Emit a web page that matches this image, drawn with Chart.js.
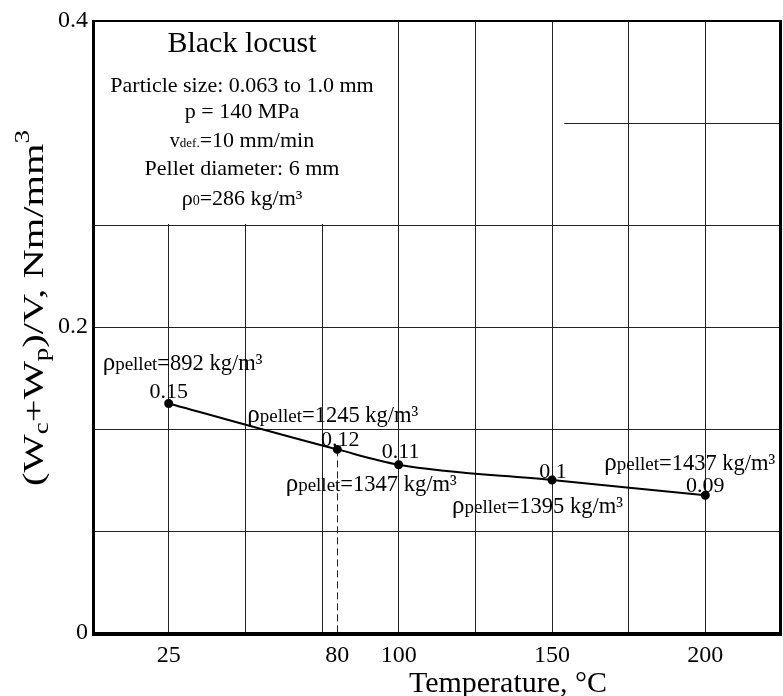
<!DOCTYPE html>
<html>
<head>
<meta charset="utf-8">
<script src="https://cdn.jsdelivr.net/npm/chart.js@4.4.1/dist/chart.umd.min.js"></script>
<style>
  html, body { margin: 0; padding: 0; background: #fff; }
  #chart { display: block; }
</style>
</head>
<body>
<canvas id="chart" width="783" height="696"></canvas>
<script>
// temperature (°C) vs specific compaction energy, black locust pellets
const temps = [25, 80, 100, 150, 200];
const energy = [0.15, 0.12, 0.11, 0.1, 0.09];
const energyLabels = ['0.15', '0.12', '0.11', '0.1', '0.09'];
const pelletDensity = [892, 1245, 1347, 1395, 1437];
const xTickLabels = [25, 80, 100, 150, 200];
const yTickLabels = [0, 0.2, 0.4];

const SERIF = '"Liberation Serif", "Times New Roman", serif';
const X_MAX = 225, Y_MAX = 0.4;
const X_STEP = 25, Y_STEP = Y_MAX / 6;

// label offsets from each point, in px (value: centre/baseline, density: left/baseline)
const valueOffsets = [[0, -6], [3, -3], [2, -7], [1, -2], [0, -3]];
const densityOffsets = [[-66, -34], [-90, -27], [-113, 26], [-100, 33], [-101, -25]];

function font(size) { return size + 'px ' + SERIF; }

// draws a run of text pieces with their own sizes / vertical shifts
function richText(ctx, parts, x, y, align) {
  let total = 0;
  parts.forEach(p => {
    ctx.font = font(p.size);
    p.w = ctx.measureText(p.t).width;
    total += p.w;
  });
  let cx = align === 'center' ? x - total / 2 : x;
  ctx.textAlign = 'left';
  ctx.textBaseline = 'alphabetic';
  parts.forEach(p => {
    ctx.font = font(p.size);
    ctx.fillText(p.t, cx, y + (p.dy || 0));
    cx += p.w;
  });
}

const near = (a, b) => Math.abs(a - b) < 1e-6;

const decorations = {
  id: 'decorations',
  beforeDatasetsDraw(chart) {
    const { ctx, chartArea: a, scales: { x, y } } = chart;
    ctx.save();
    // info box sits on top of the grid
    ctx.fillStyle = '#fff';
    ctx.fillRect(a.left, a.top, 392 - a.left, y.getPixelForValue(4 * Y_STEP) - a.top - 1);
    // upper grid line only shows right of the box
    ctx.strokeStyle = '#222';
    ctx.lineWidth = 1;
    const yy = Math.round(y.getPixelForValue(5 * Y_STEP)) + 0.5;
    ctx.beginPath();
    ctx.moveTo(x.getPixelForValue(154), yy);
    ctx.lineTo(a.right, yy);
    ctx.stroke();
    // dashed drop line at 80 °C
    const px = Math.round(x.getPixelForValue(temps[1])) + 0.5;
    ctx.setLineDash([7, 4]);
    ctx.beginPath();
    ctx.moveTo(px, y.getPixelForValue(energy[1]));
    ctx.lineTo(px, a.bottom);
    ctx.stroke();
    ctx.restore();
  },
  afterDraw(chart) {
    const { ctx, chartArea: a, scales: { x, y } } = chart;
    ctx.save();
    ctx.fillStyle = '#000';

    // frame
    ctx.strokeStyle = '#000';
    ctx.lineWidth = 2;
    ctx.strokeRect(a.left + 1, a.top, a.right - a.left - 2, a.bottom - a.top);
    ctx.lineWidth = 3;
    ctx.beginPath();
    ctx.moveTo(a.left + 1.5, a.top);
    ctx.lineTo(a.left + 1.5, a.bottom + 1.5);
    ctx.lineTo(a.right - 1.5, a.bottom + 1.5);
    ctx.lineTo(a.right - 1.5, a.top);
    ctx.stroke();

    // info box text
    const cx = 242;
    richText(ctx, [{ t: 'Black locust', size: 30 }], cx, 52, 'center');
    richText(ctx, [{ t: 'Particle size: 0.063 to 1.0 mm', size: 22 }], cx, 92, 'center');
    richText(ctx, [{ t: 'p = 140 MPa', size: 22 }], cx, 118, 'center');
    richText(ctx, [{ t: 'v', size: 20 }, { t: 'def.', size: 13 }, { t: '=10 mm/min', size: 22 }], cx, 147, 'center');
    richText(ctx, [{ t: 'Pellet diameter: 6 mm', size: 22 }], cx, 175, 'center');
    richText(ctx, [{ t: 'ρ', size: 22 }, { t: '0', size: 14 }, { t: '=286 kg/m³', size: 22 }], cx, 205, 'center');

    // point labels
    temps.forEach((t, i) => {
      const px = x.getPixelForValue(t);
      const py = y.getPixelForValue(energy[i]);
      const [vx, vy] = valueOffsets[i];
      richText(ctx, [{ t: energyLabels[i], size: 22 }], px + vx, py + vy, 'center');
      const [dx, dy] = densityOffsets[i];
      richText(ctx, [
        { t: 'ρ', size: 25 },
        { t: 'pellet', size: 19 },
        { t: '=' + pelletDensity[i] + ' kg/m³', size: 22.5 }
      ], px + dx, py + dy, 'left');
    });

    // axis titles
    richText(ctx, [{ t: 'Temperature, °C', size: 30 }], 508, 692, 'center');
    ctx.translate(43, 308);
    ctx.rotate(-Math.PI / 2);
    ctx.scale(1.35, 1);
    richText(ctx, [
      { t: '(W', size: 30 }, { t: 'c', size: 20, dy: 5 },
      { t: '+W', size: 30 }, { t: 'p', size: 20, dy: 5 },
      { t: ')/V, Nm/mm', size: 30 }, { t: '3', size: 20, dy: -14 }
    ], 0, 0, 'center');
    ctx.restore();
  }
};

new Chart(document.getElementById('chart'), {
  type: 'line',
  data: {
    datasets: [{
      data: temps.map((t, i) => ({ x: t, y: energy[i] })),
      borderColor: '#000',
      borderWidth: 2,
      backgroundColor: '#000',
      pointRadius: 3.5,
      pointHoverRadius: 3.5,
      cubicInterpolationMode: 'monotone',
      fill: false
    }]
  },
  options: {
    responsive: false,
    devicePixelRatio: 1,
    animation: false,
    layout: { autoPadding: false, padding: { top: 21, right: 1, left: 0, bottom: 0 } },
    plugins: { legend: { display: false }, tooltip: { enabled: false } },
    scales: {
      x: {
        type: 'linear',
        min: 0,
        max: X_MAX,
        afterBuildTicks(axis) {
          const vals = [];
          for (let v = 0; v <= X_MAX; v += X_STEP) vals.push(v);
          xTickLabels.forEach(v => { if (!vals.includes(v)) vals.push(v); });
          axis.ticks = vals.sort((a, b) => a - b).map(v => ({ value: v }));
        },
        afterFit(scale) {
          scale.height = 63;
          scale.paddingLeft = 0;
          scale.paddingRight = 0;
        },
        border: { display: false },
        grid: {
          drawTicks: false,
          lineWidth: 1,
          color: c => (c.tick && c.tick.value % X_STEP === 0 && c.tick.value > 0 && c.tick.value < X_MAX) ? '#222' : 'transparent'
        },
        ticks: {
          autoSkip: false,
          maxRotation: 0,
          padding: 8,
          color: '#000',
          font: { family: SERIF, size: 24 },
          callback: v => xTickLabels.includes(v) ? String(v) : ''
        }
      },
      y: {
        min: 0,
        max: Y_MAX,
        afterBuildTicks(axis) {
          const vals = [];
          for (let i = 0; i <= 6; i++) vals.push(i * Y_STEP);
          axis.ticks = vals.map(v => ({ value: v }));
        },
        afterFit(scale) { scale.width = 92; },
        border: { display: false },
        grid: {
          drawTicks: false,
          lineWidth: 1,
          color: c => {
            const v = c.tick ? c.tick.value : 0;
            if (v <= 0 || near(v, Y_MAX) || near(v, 5 * Y_STEP)) return 'transparent';
            return '#222';
          }
        },
        ticks: {
          padding: 4,
          color: '#000',
          font: { family: SERIF, size: 24 },
          callback: v => {
            const hit = yTickLabels.find(t => near(t, v));
            return hit === undefined ? '' : String(hit);
          }
        }
      }
    }
  },
  plugins: [decorations]
});
</script>
</body>
</html>
